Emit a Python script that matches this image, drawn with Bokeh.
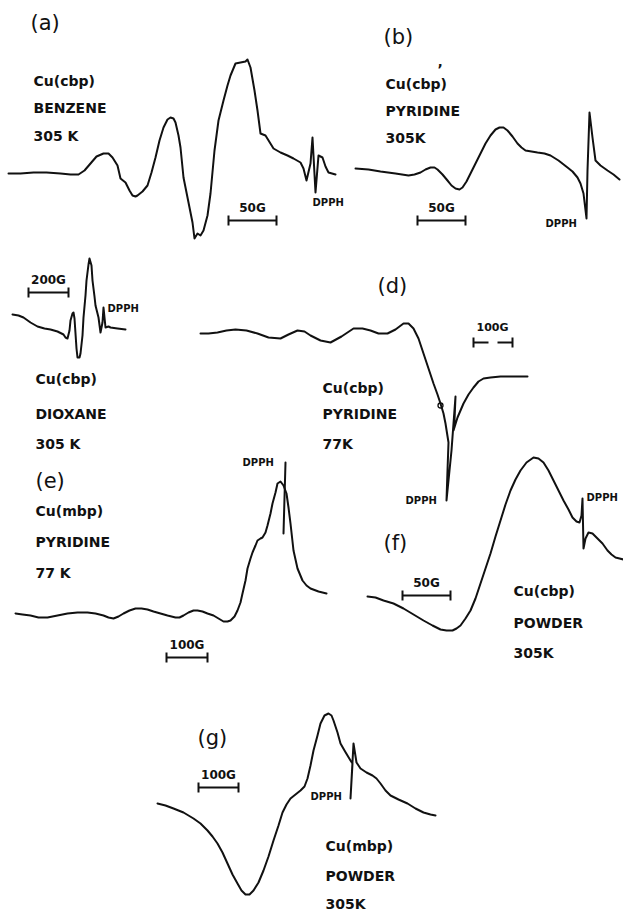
from bokeh.plotting import figure
from bokeh.models import Range1d
from bokeh.embed import file_html
from bokeh.resources import INLINE
from bokeh.core.properties import value

# ---- spectra (page pixel coordinates) ----
a_x = [8, 20, 33, 46, 60, 70, 78, 84, 90, 96, 103, 108, 112, 117, 120, 125, 129, 132, 135, 137, 142, 147,
       151, 155, 159, 163, 167, 170, 173, 175, 178, 180, 183, 187,
       190, 192, 194, 197, 200, 203, 207, 210, 214, 218, 223, 227, 230, 235, 240, 245, 247, 250, 254, 257,
       260, 265, 273, 280, 287, 293, 300, 303, 306, 310, 312, 315, 318, 322, 325, 328, 335]
a_y = [173, 173, 172, 172, 173, 174, 174, 170, 163, 156, 153, 153, 157, 165, 178, 182, 190, 195, 196, 195,
       191, 185, 172, 157, 140, 127, 119, 117, 118, 122, 135, 147, 177, 197,
       212, 222, 238, 233, 235, 230, 215, 193, 150, 120, 100, 85, 75, 63, 62, 61, 59, 67, 90, 110,
       133, 135, 148, 152, 155, 158, 162, 168, 180, 163, 137, 192, 155, 157, 166, 172, 174]

b_x = [355, 368, 380, 395, 408, 414, 420, 425, 430, 434, 437, 442, 447, 451, 455, 459, 462, 466, 470, 475,
       480, 485, 490, 495, 499, 503, 507, 512, 517, 521, 525, 531, 537, 544, 550, 558, 567,
       572, 577, 580, 583, 586, 587, 589, 592, 595, 600, 607, 613, 619]
b_y = [168, 169, 171, 173, 175, 174, 172, 169, 167, 167, 169, 174, 180, 185, 188, 189, 187, 181, 173, 163,
       153, 143, 135, 129, 127, 127, 130, 136, 143, 147, 150, 151, 152, 153, 155, 160, 167,
       171, 177, 183, 193, 218, 170, 112, 137, 160, 165, 170, 174, 179]

c_x = [12, 18, 23, 30, 37, 44, 50, 57, 63, 65, 67, 69, 70, 72, 73, 74, 75, 76, 77, 79, 80, 82, 83, 85, 86,
       88, 89, 91, 92, 94, 95, 97, 98, 100, 102, 103, 105, 108, 110, 117, 125]
c_y = [314, 315, 317, 322, 326, 328, 329, 331, 334, 337, 338, 330, 320, 313, 312, 318, 333, 348, 357, 357,
       353, 335, 317, 295, 280, 264, 258, 265, 280, 296, 305, 313, 317, 332, 322, 307, 327, 326, 327, 328, 329]

d_x = [200, 208, 217, 226, 235, 246, 257, 268, 280, 288, 297, 304, 310, 320, 330, 341, 353, 362, 370, 378,
       387, 395, 403, 408, 413, 418, 423, 428, 433, 437, 440, 443, 445, 448, 447, 446,
       451, 455, 454, 453, 457, 460, 463, 468, 473, 478, 483, 490, 500, 513, 527]
d_y = [333, 333, 332, 330, 329, 330, 333, 337, 338, 334, 330, 331, 335, 340, 342, 336, 328, 328, 330, 333,
       333, 329, 323, 323, 328, 338, 353, 368, 383, 394, 403, 413, 423, 442, 470, 500,
       450, 396, 420, 430, 417, 410, 403, 394, 387, 381, 378, 377, 376, 376, 376]

e_x = [15, 22, 30, 38, 47, 57, 67, 77, 87, 95, 103, 108, 113, 118, 123, 129, 135, 141, 147, 153, 160, 167,
       175, 179, 183, 188, 193, 197, 202, 207, 213, 218, 223, 227, 230, 234, 237, 240, 242, 245, 247,
       250, 252, 255, 257, 260, 262, 265, 267, 270, 272, 275, 277, 280, 283, 286, 288, 290, 293, 297, 302,
       306, 310, 318, 326]
e_y = [613, 614, 615, 617, 617, 615, 613, 612, 612, 613, 615, 617, 618, 616, 613, 610, 608, 608, 609, 611,
       613, 615, 617, 617, 615, 612, 610, 610, 611, 613, 615, 618, 621, 621, 620, 616, 610, 602, 593, 580, 568,
       558, 552, 545, 540, 538, 537, 532, 525, 513, 503, 492, 483, 481, 485, 493, 507, 523, 550, 568, 580,
       585, 588, 591, 593]
e_dpph_x = [285, 283]
e_dpph_y = [462, 533]

f_x = [367, 375, 383, 393, 403, 413, 423, 432, 440, 446, 452, 456, 460, 465, 470, 475, 480, 485, 490, 495,
       500, 505, 510, 515, 520, 526, 533, 538, 543, 548, 553, 558, 563, 568, 572, 576, 579, 581, 582,
       583, 585, 588, 592, 597, 602, 607, 611, 615, 619, 623]
f_y = [596, 597, 600, 603, 608, 614, 620, 625, 629, 630, 630, 628, 625, 618, 610, 598, 583, 568, 553, 536,
       520, 504, 490, 479, 470, 462, 457, 458, 462, 470, 480, 490, 500, 509, 517, 521, 522, 515, 498,
       548, 538, 532, 533, 538, 543, 550, 554, 557, 558, 559]

g_x = [157, 165, 173, 183, 193, 200, 207, 212, 217, 222, 227, 232, 237, 241, 245, 249, 253, 258, 263, 268,
       273, 278, 282, 286, 290, 295, 300, 304, 307, 310, 313, 317, 320, 324, 328, 331, 333, 337, 340,
       344, 347, 350, 352, 350, 353, 356, 360, 366, 372, 376, 380, 385, 390, 398, 407, 415, 423, 430, 435]
g_y = [803, 805, 808, 812, 818, 823, 830, 836, 843, 852, 863, 874, 883, 890, 894, 894, 890, 882, 870, 856,
       840, 825, 812, 804, 798, 794, 790, 786, 778, 765, 750, 735, 723, 715, 713, 715, 720, 732, 743,
       750, 755, 760, 763, 798, 743, 762, 768, 772, 775, 778, 783, 790, 795, 799, 803, 808, 812, 814, 815]

# scale bars: (x0, x1, y, label)
bar_x0 = [228, 417, 28, 198, 166, 402]
bar_x1 = [276, 465, 68, 238, 207, 450]
bar_y = [220, 220, 292, 787, 657, 595]
bar_lbl = ["50G", "50G", "200G", "100G", "100G", "50G"]

W, H = 623, 913
p = figure(width=W, height=H, output_backend="svg", toolbar_location=None,
           x_range=Range1d(0, W), y_range=Range1d(H, 0),
           min_border=0, outline_line_color=None)
p.axis.visible = False
p.grid.visible = False
p.background_fill_color = "white"

lw = 2.0
ink = "#111111"
for xs, ys in [(a_x, a_y), (b_x, b_y), (c_x, c_y), (d_x, d_y), (e_x, e_y), (f_x, f_y), (g_x, g_y),
               (e_dpph_x, e_dpph_y)]:
    p.line(xs, ys, line_width=lw, line_color=ink, line_join="round", line_cap="round")

# small circle on (d)
p.scatter([440], [405], size=5, marker="circle", fill_color=None, line_color=ink, line_width=1.3)

# scale bars
for x0, x1, y, lbl in zip(bar_x0, bar_x1, bar_y, bar_lbl):
    p.segment([x0], [y], [x1], [y], line_width=2, line_color=ink)
    p.segment([x0, x1], [y - 5, y - 5], [x0, x1], [y + 5, y + 5], line_width=2, line_color=ink)
    p.text([(x0 + x1) / 2], [y - 13], text=[lbl], text_align="center", text_baseline="middle",
           text_font=value("DejaVu Sans"), text_font_style="bold", text_font_size="12px", text_color=ink)
# (d) broken scale bar
p.segment([473, 497], [342, 342], [488, 512], [342, 342], line_width=2, line_color=ink)
p.segment([473, 512], [337, 337], [473, 512], [347, 347], line_width=2, line_color=ink)
p.text([492], [327], text=["100G"], text_align="center", text_baseline="middle",
       text_font=value("DejaVu Sans"), text_font_style="bold", text_font_size="11px", text_color=ink)

# panel letters
pl_x = [30, 383, 377, 35, 383, 197]
pl_y = [22, 36, 285, 480, 542, 737]
pl_t = ["(a)", "(b)", "(d)", "(e)", "(f)", "(g)"]
p.text(pl_x, pl_y, text=pl_t, text_align="left", text_baseline="middle",
       text_font=value("DejaVu Sans"), text_font_size="21px", text_color=ink)

# sample labels
lab_x = [33, 33, 33, 385, 385, 385, 35, 35, 35, 322, 322, 322, 35, 35, 35, 513, 513, 513, 325, 325, 325]
lab_y = [80, 107, 135, 83, 110, 137, 378, 413, 443, 387, 413, 443, 510, 541, 572, 590, 622, 652, 845, 875, 903]
lab_t = ["Cu(cbp)", "BENZENE", "305 K", "Cu(cbp)", "PYRIDINE", "305K", "Cu(cbp)", "DIOXANE", "305 K",
         "Cu(cbp)", "PYRIDINE", "77K", "Cu(mbp)", "PYRIDINE", "77 K", "Cu(cbp)", "POWDER", "305K",
         "Cu(mbp)", "POWDER", "305K"]
p.text(lab_x, lab_y, text=lab_t, text_align="left", text_baseline="middle",
       text_font=value("DejaVu Sans"), text_font_style="bold", text_font_size="14px", text_color=ink)
p.text([437], [68], text=["\u2019"], text_align="left", text_baseline="middle",
       text_font=value("DejaVu Sans"), text_font_style="bold", text_font_size="14px", text_color=ink)

# DPPH labels
dp_x = [312, 545, 107, 405, 242, 586, 310]
dp_y = [202, 223, 308, 500, 462, 497, 796]
p.text(dp_x, dp_y, text=["DPPH"] * len(dp_x), text_align="left", text_baseline="middle",
       text_font=value("DejaVu Sans"), text_font_style="bold", text_font_size="10px", text_color=ink)

open("out.html", "w").write(file_html(p, INLINE))
